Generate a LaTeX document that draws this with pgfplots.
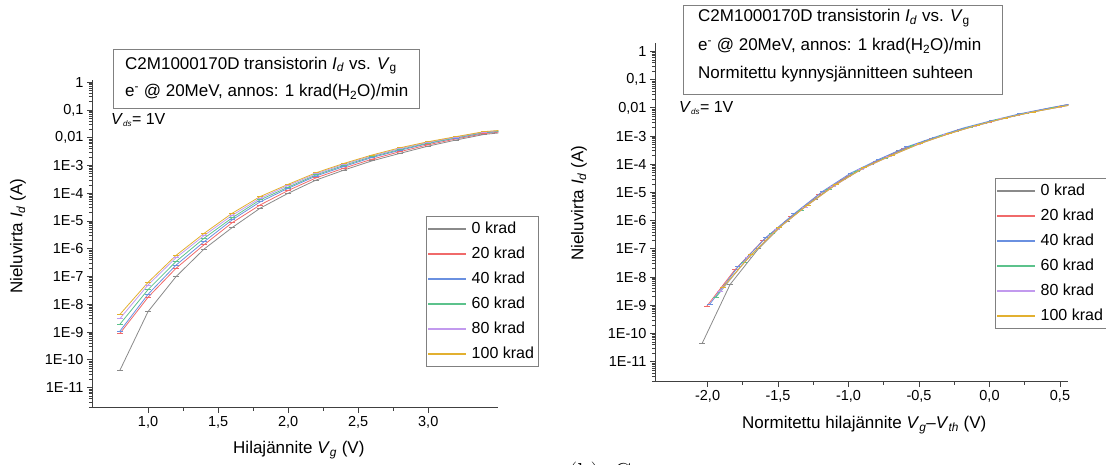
\documentclass[border=0pt]{standalone}
\usepackage{fontspec}
\setmainfont{Liberation Sans}
\usepackage{pgfplots}
\usepackage{pgfplotstable}
\pgfplotsset{compat=1.18}

\definecolor{cg}{HTML}{8A8A8A}
\definecolor{cr}{HTML}{F06A6A}
\definecolor{cb}{HTML}{6A90E0}
\definecolor{cgr}{HTML}{5CC28C}
\definecolor{cp}{HTML}{C29AEE}
\definecolor{co}{HTML}{E2B030}
\definecolor{axgray}{HTML}{404040}
\definecolor{boxgray}{HTML}{808080}

\newcommand{\tickfont}{\fontsize{14.5}{16}\selectfont}
\newcommand{\legfont}{\fontsize{16}{18}\selectfont}
\newcommand{\labfont}{\fontsize{17}{20}\selectfont}
\newcommand{\titfont}{\fontsize{17}{20}\selectfont}

\pgfplotstableread{
V Vn I
0.8 -2.04 4.3e-11
1.0 -1.84 5.5e-9
1.2 -1.64 1.0e-7
1.4 -1.44 9.8e-7
1.6 -1.24 5.8e-6
1.8 -1.04 2.9e-5
2.0 -0.84 1.0e-4
2.2 -0.64 3.0e-4
2.4 -0.44 6.9e-4
2.6 -0.24 1.48e-3
2.8 -0.04 2.75e-3
3.0 0.16 5.0e-3
3.2 0.36 8.3e-3
3.4 0.56 1.32e-2
3.5 0.66 1.48e-2
}\tabG
\pgfplotstableread{
V Vn I
0.8 -2.007 9.1e-10
1.0 -1.807 1.8e-8
1.2 -1.607 2.0e-7
1.4 -1.407 1.4e-6
1.6 -1.207 8.7e-6
1.8 -1.007 3.8e-5
2.0 -0.807 1.26e-4
2.2 -0.607 3.6e-4
2.4 -0.407 8.1e-4
2.6 -0.207 1.7e-3
2.8 -0.007 3.16e-3
3.0 0.193 5.6e-3
3.2 0.393 9.1e-3
3.4 0.593 1.41e-2
3.5 0.693 1.58e-2
}\tabR
\pgfplotstableread{
V Vn I
0.8 -1.984 1.1e-9
1.0 -1.784 2.3e-8
1.2 -1.584 2.6e-7
1.4 -1.384 1.8e-6
1.6 -1.184 1.1e-5
1.8 -0.984 4.9e-5
2.0 -0.784 1.51e-4
2.2 -0.584 4.2e-4
2.4 -0.384 9.3e-4
2.6 -0.184 1.95e-3
2.8 0.016 3.55e-3
3.0 0.216 6.2e-3
3.2 0.416 9.8e-3
3.4 0.616 1.5e-2
3.5 0.716 1.66e-2
}\tabB
\pgfplotstableread{
V Vn I
0.8 -1.94 1.95e-9
1.0 -1.74 3.4e-8
1.2 -1.54 3.5e-7
1.4 -1.34 2.4e-6
1.6 -1.14 1.3e-5
1.8 -0.94 5.8e-5
2.0 -0.74 1.66e-4
2.2 -0.54 4.6e-4
2.4 -0.34 1.02e-3
2.6 -0.14 2.1e-3
2.8 0.06 3.8e-3
3.0 0.26 6.5e-3
3.2 0.46 1.0e-2
3.4 0.66 1.55e-2
3.5 0.76 1.7e-2
}\tabGr
\pgfplotstableread{
V Vn I
0.8 -1.91 3.1e-9
1.0 -1.71 5.0e-8
1.2 -1.51 4.8e-7
1.4 -1.31 3.0e-6
1.6 -1.11 1.6e-5
1.8 -0.91 6.6e-5
2.0 -0.71 1.9e-4
2.2 -0.51 5.0e-4
2.4 -0.31 1.12e-3
2.6 -0.11 2.24e-3
2.8 0.09 4.07e-3
3.0 0.29 6.9e-3
3.2 0.49 1.05e-2
3.4 0.69 1.62e-2
3.5 0.79 1.78e-2
}\tabP
\pgfplotstableread{
V Vn I
0.8 -1.89 4.4e-9
1.0 -1.69 6.2e-8
1.2 -1.49 5.8e-7
1.4 -1.29 3.6e-6
1.6 -1.09 1.9e-5
1.8 -0.89 7.6e-5
2.0 -0.69 2.1e-4
2.2 -0.49 5.5e-4
2.4 -0.29 1.2e-3
2.6 -0.09 2.4e-3
2.8 0.11 4.37e-3
3.0 0.31 7.2e-3
3.2 0.51 1.1e-2
3.4 0.71 1.66e-2
3.5 0.81 1.82e-2
}\tabO

\pgfplotsset{
  legend image code/.code={\draw[#1, mark=none, line width=1.3pt] (0pt,0pt) -- (38pt,0pt);},
  every axis plot/.append style={line width=0.8pt, mark=-, mark size=3pt},
}
\pgfplotsset{
  every axis/.append style={
    scale only axis,
    axis x line*=bottom, axis y line*=left,
    axis line style={axgray, line width=0.9pt, -},
    every tick/.style={axgray, line width=0.8pt},
    tick align=outside, major tick length=5pt, minor tick length=3pt,
    minor x tick num=1,
    ytick={1,0.1,0.01,1e-3,1e-4,1e-5,1e-6,1e-7,1e-8,1e-9,1e-10,1e-11},
    yticklabels={1,{0,1},{0,01},1E-3,1E-4,1E-5,1E-6,1E-7,1E-8,1E-9,1E-10,1E-11},
    minor ytick={2e-12,3e-12,4e-12,5e-12,6e-12,7e-12,8e-12,9e-12,
      2e-11,3e-11,4e-11,5e-11,6e-11,7e-11,8e-11,9e-11,
      2e-10,3e-10,4e-10,5e-10,6e-10,7e-10,8e-10,9e-10,
      2e-9,3e-9,4e-9,5e-9,6e-9,7e-9,8e-9,9e-9,
      2e-8,3e-8,4e-8,5e-8,6e-8,7e-8,8e-8,9e-8,
      2e-7,3e-7,4e-7,5e-7,6e-7,7e-7,8e-7,9e-7,
      2e-6,3e-6,4e-6,5e-6,6e-6,7e-6,8e-6,9e-6,
      2e-5,3e-5,4e-5,5e-5,6e-5,7e-5,8e-5,9e-5,
      2e-4,3e-4,4e-4,5e-4,6e-4,7e-4,8e-4,9e-4,
      2e-3,3e-3,4e-3,5e-3,6e-3,7e-3,8e-3,9e-3,
      0.02,0.03,0.04,0.05,0.06,0.07,0.08,0.09,
      0.2,0.3,0.4,0.5,0.6,0.7,0.8,0.9},
    tick label style={font=\tickfont, black},
    legend cell align=left,
    legend style={draw=boxgray, line width=0.8pt, font=\legfont, anchor=north west,
      inner xsep=1pt, inner ysep=0pt, row sep=0pt, column sep=5pt,
      nodes={inner sep=0pt, minimum height=25pt}},
  },
}

\begin{document}
\begin{tikzpicture}[x=1pt,y=1pt]
\useasboundingbox (0,0) rectangle (1106,465);

% ---------- left panel ----------
\begin{axis}[ymode=log, at={(92pt,57.3pt)}, anchor=south west,
  width=406.3pt, height=327.7pt,
  xmin=0.6, xmax=3.5, ymin=1.9e-12, ymax=1.2,
  xtick={1,1.5,2,2.5,3}, xticklabels={{1,0},{1,5},{2,0},{2,5},{3,0}},
  legend style={at={(axis description cs:0.8221,0.585)}}]
\addplot[color=cg, mark indices={1,2,3,4,5,6,7,8,9,10,11,12,13,14}] table[x=V,y=I]{\tabG};
\addlegendentry{0 krad}
\addplot[color=cr, mark indices={1,2,3,4,5,6,7,8,9,10,11,12,13,14}] table[x=V,y=I]{\tabR};
\addlegendentry{20 krad}
\addplot[color=cb, mark indices={1,2,3,4,5,6,7,8,9,10,11,12,13,14}] table[x=V,y=I]{\tabB};
\addlegendentry{40 krad}
\addplot[color=cgr, mark indices={1,2,3,4,5,6,7,8,9,10,11,12,13,14}] table[x=V,y=I]{\tabGr};
\addlegendentry{60 krad}
\addplot[color=cp, mark indices={1,2,3,4,5,6,7,8,9,10,11,12,13,14}] table[x=V,y=I]{\tabP};
\addlegendentry{80 krad}
\addplot[color=co, mark indices={1,2,3,4,5,6,7,8,9,10,11,12,13,14}] table[x=V,y=I]{\tabO};
\addlegendentry{100 krad\rule{3pt}{0pt}}
\end{axis}

% ---------- right panel ----------
\begin{axis}[ymode=log, at={(655pt,83.3pt)}, anchor=south west,
  width=413.3pt, height=338.7pt,
  xmin=-2.373, xmax=0.559, ymin=1.95e-12, ymax=2.0,
  clip marker paths=true,
  xtick={-2,-1.5,-1,-0.5,0,0.5}, xticklabels={{-2,0},{-1,5},{-1,0},{-0,5},{0,0},{0,5}},
  legend style={at={(axis description cs:0.8226,0.6014)}}]
\addplot[color=cg] table[x=Vn,y=I]{\tabG};
\addlegendentry{0 krad}
\addplot[color=cr] table[x=Vn,y=I]{\tabR};
\addlegendentry{20 krad}
\addplot[color=cb] table[x=Vn,y=I]{\tabB};
\addlegendentry{40 krad}
\addplot[color=cgr] table[x=Vn,y=I]{\tabGr};
\addlegendentry{60 krad}
\addplot[color=cp] table[x=Vn,y=I]{\tabP};
\addlegendentry{80 krad}
\addplot[color=co] table[x=Vn,y=I]{\tabO};
\addlegendentry{100 krad\rule{14pt}{0pt}}
\end{axis}

% ---------- annotations, left ----------
\draw[boxgray, line width=0.8pt] (113,356.7) rectangle (419,415.7);
\node[anchor=west, font=\titfont, inner sep=0pt] at (125,399.3)
  {C2M1000170D transistorin \textit{I}\textsubscript{\textit{d}} vs. \textit{V}\textsubscript{g}};
\node[anchor=west, font=\titfont, inner sep=0pt] at (125,372.7)
  {e\textsuperscript{-} @ 20MeV, annos: 1 krad(H\textsubscript{2}O)/min};
\node[anchor=west, font=\legfont, inner sep=0pt] at (111,345)
  {\textit{V}\textsubscript{\textit{\fontsize{8}{8}\selectfont ds}}= 1V};
\node[rotate=90, font=\labfont] at (18,229)
  {Nieluvirta \textit{I}\textsubscript{\textit{d}} (A)};
\node[anchor=west, font=\labfont, inner sep=0pt] at (233,15)
  {Hilajännite \textit{V}\textsubscript{\textit{g}} (V)};

% ---------- annotations, right ----------
\draw[boxgray, line width=0.8pt] (683.8,371) rectangle (1002,460);
\node[anchor=west, font=\titfont, inner sep=0pt] at (698,447)
  {C2M1000170D transistorin \textit{I}\textsubscript{\textit{d}} vs. \textit{V}\textsubscript{g}};
\node[anchor=west, font=\titfont, inner sep=0pt] at (698,418.5)
  {e\textsuperscript{-} @ 20MeV, annos: 1 krad(H\textsubscript{2}O)/min};
\node[anchor=west, font=\titfont, inner sep=0pt] at (698,391)
  {Normitettu kynnysjännitteen suhteen};
\node[anchor=west, font=\legfont, inner sep=0pt] at (679,357)
  {\textit{V}\textsubscript{\textit{\fontsize{8}{8}\selectfont ds}}= 1V};
\node[rotate=90, font=\labfont] at (579,262)
  {Nieluvirta \textit{I}\textsubscript{\textit{d}} (A)};
\node[anchor=west, font=\labfont, inner sep=0pt] at (742,40)
  {Normitettu hilajännite \textit{V}\textsubscript{\textit{g}}--\textit{V}\textsubscript{\textit{th}} (V)};

% ---------- caption fragment cut by the lower edge ----------
\node[anchor=north west, inner sep=0pt, font=\fontfamily{lmr}\fontsize{26}{26}\selectfont] at (568,3)
  {(b)\hspace{14pt}C};
\end{tikzpicture}
\end{document}
